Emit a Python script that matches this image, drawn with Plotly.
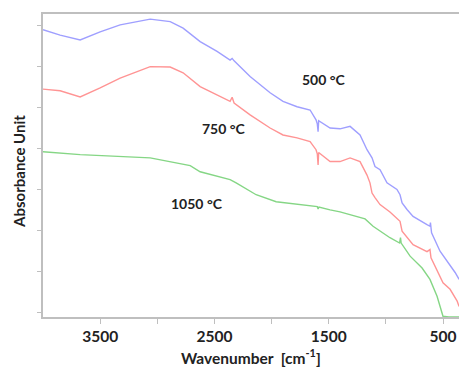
import plotly.graph_objects as go

# 500 °C (blue)
wn_500 = [4000, 3850, 3675, 3500, 3325, 3062, 2887, 2774, 2625, 2477, 2363, 2345, 2328, 2188, 2013, 1900,
          1777, 1663, 1611, 1600, 1593, 1588, 1488, 1401, 1313, 1226, 1165, 1121, 1095, 1051, 990, 938,
          903, 876, 858, 815, 762, 640, 614, 610, 600, 526, 438, 394, 359]
ab_500 = [6.90, 6.77, 6.65, 6.85, 7.02, 7.16, 7.10, 6.94, 6.61, 6.37, 6.16, 6.20, 6.14, 5.76, 5.36, 5.15,
          5.02, 4.94, 4.70, 4.60, 4.41, 4.68, 4.50, 4.48, 4.54, 4.33, 3.97, 3.77, 3.56, 3.48, 3.16, 3.07,
          3.00, 2.87, 2.67, 2.51, 2.34, 2.14, 2.10, 2.19, 1.94, 1.49, 1.16, 0.97, 0.80]

# 750 °C (red)
wn_750 = [4000, 3850, 3675, 3500, 3325, 3062, 2887, 2774, 2625, 2477, 2363, 2345, 2328, 2188, 2013, 1900,
          1777, 1663, 1611, 1600, 1593, 1588, 1488, 1401, 1313, 1226, 1165, 1139, 1121, 1095, 1051, 964,
          920, 876, 858, 762, 640, 614, 605, 552, 500, 438, 376, 359]
ab_750 = [5.45, 5.41, 5.26, 5.48, 5.72, 6.00, 5.99, 5.85, 5.51, 5.31, 5.15, 5.25, 5.11, 4.82, 4.50, 4.33,
          4.26, 4.17, 3.97, 3.87, 3.60, 3.90, 3.68, 3.68, 3.77, 3.68, 3.35, 3.16, 2.91, 2.80, 2.63, 2.45,
          2.34, 2.22, 1.98, 1.65, 1.48, 1.53, 1.33, 1.00, 0.72, 0.56, 0.27, 0.14]

# 1050 °C (green)
wn_1050 = [4000, 3675, 3062, 2712, 2625, 2363, 2310, 2135, 1960, 1777, 1600, 1593, 1585, 1488, 1401, 1182,
           1112, 964, 880, 872, 866, 788, 683, 614, 552, 500, 450, 359]
ab_1050 = [3.92, 3.85, 3.77, 3.58, 3.43, 3.24, 3.16, 2.87, 2.70, 2.63, 2.58, 2.52, 2.57, 2.50, 2.45, 2.28,
           2.10, 1.82, 1.69, 1.82, 1.69, 1.37, 1.08, 0.80, 0.39, -0.10, -0.117, -0.117]

x_tickvals = [3500, 3000, 2500, 2000, 1500, 1000, 500]
x_ticktext = ["3500", "", "2500", "", "1500", "", "500"]
y_tickvals = [0, 1, 2, 3, 4, 5, 6, 7]

labels = ["500 °C", "750 °C", "1050 °C"]
label_x = [1540, 2415, 2650]
label_y = [5.68, 4.50, 2.65]

FONT = "Lato"

fig = go.Figure()
for wn, ab, col in [(wn_500, ab_500, "#9f9fff"), (wn_750, ab_750, "#ff9494"), (wn_1050, ab_1050, "#85d685")]:
    fig.add_trace(go.Scatter(x=wn, y=ab, mode="lines", line=dict(color=col, width=1.4), showlegend=False))

for t, lx, ly in zip(labels, label_x, label_y):
    fig.add_annotation(x=lx, y=ly, text="<b>%s</b>" % t, showarrow=False,
                       font=dict(family=FONT, size=14, color="#222222"))

fig.add_annotation(xref="paper", yref="paper", x=0.5, y=-(357 - 317.5) / 303.5, yanchor="middle",
                   text="<b>Wavenumber  [cm<sup>-1</sup>]</b>", showarrow=False,
                   font=dict(family=FONT, size=15.5, color="#222222"))
fig.add_annotation(xref="paper", yref="paper", x=(19 - 42.8) / 416.2, y=(317.5 - 172) / 303.5,
                   xanchor="center", yanchor="middle", textangle=-90,
                   text="<b>Absorbance Unit</b>", showarrow=False,
                   font=dict(family=FONT, size=15, color="#222222"))

fig.update_layout(
    width=459, height=367,
    margin=dict(l=42.8, r=0, t=14, b=49.5, pad=0),
    paper_bgcolor="white", plot_bgcolor="white",
    xaxis=dict(range=[4000, 360], tickvals=x_tickvals, ticktext=x_ticktext,
               showgrid=False, zeroline=False, showline=True, mirror=True,
               linecolor="#bfbfbf", linewidth=1.5, ticks="outside", ticklen=5,
               tickcolor="#bfbfbf", tickfont=dict(family=FONT, size=15.5, color="#222222", weight="bold")),
    yaxis=dict(range=[-0.117, 7.285], tickvals=y_tickvals, showticklabels=False,
               showgrid=False, zeroline=False, showline=True,
               linecolor="#bfbfbf", linewidth=1.5, ticks="outside", ticklen=4, tickcolor="#bfbfbf"),
)

fig.write_html("out.html", config={"displayModeBar": False},
               post_script="document.body.style.margin='0';document.body.style.overflow='hidden';")
